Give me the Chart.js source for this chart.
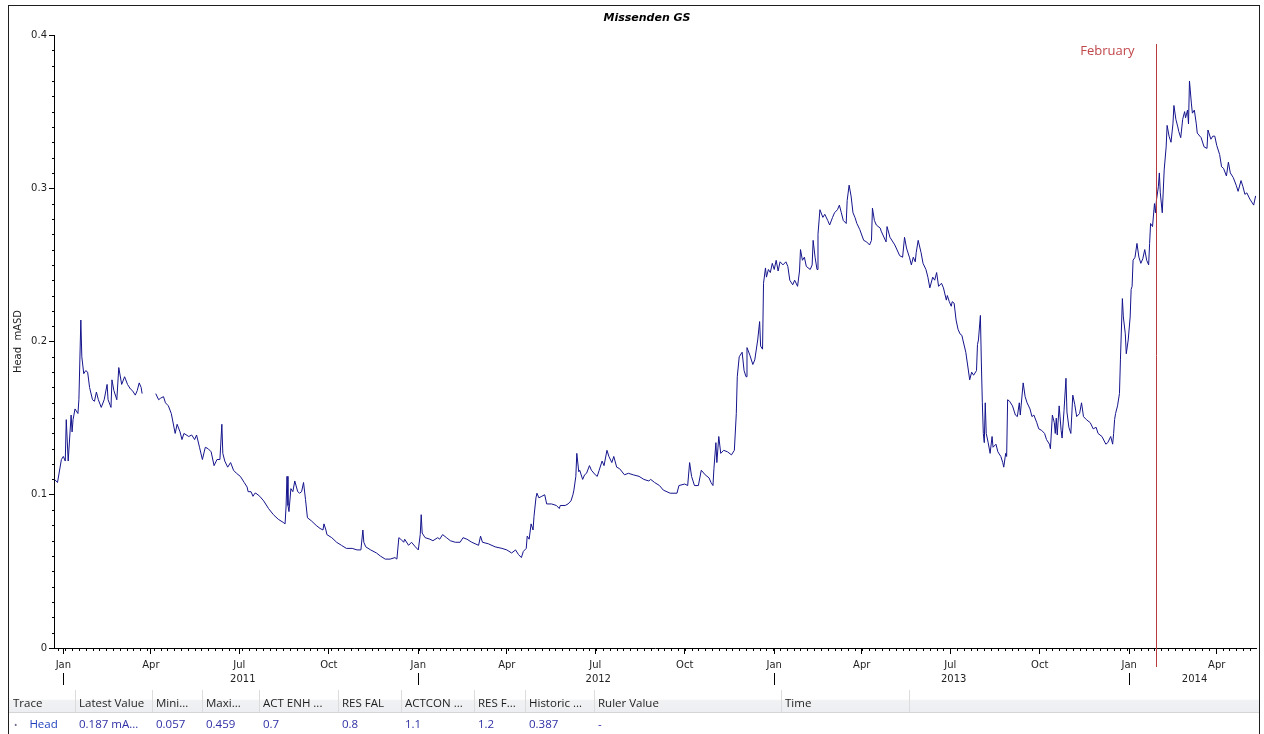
<!DOCTYPE html>
<html>
<head>
<meta charset="utf-8">
<title>Missenden GS</title>
<script src="https://cdn.jsdelivr.net/npm/chart.js@4.4.1/dist/chart.umd.min.js"></script>
<style>
  html, body { margin: 0; padding: 0; background: #ffffff; }
  body { width: 1264px; height: 734px; position: relative; overflow: hidden; }
  #plot { position: absolute; left: 0; top: 0; width: 1264px; height: 734px; }
  #frame { position: absolute; left: 8px; top: 5px; width: 1250px; height: 760px;
           border: 1px solid #1e1e1e; pointer-events: none; }
  #grid { position: absolute; left: 9px; top: 690px; width: 1250px; height: 44px;
          font-family: "Open Sans", "Noto Sans", sans-serif; font-size: 11.5px; }
  #grid .hdr { position: absolute; left: 0; top: 0; width: 1250px; height: 22px;
               background: linear-gradient(#ffffff 0%, #ffffff 42%, #f1f2f4 46%, #eceef1 100%);
               border-bottom: 1px solid #d5d5d5; }
  #grid .cell { position: absolute; white-space: nowrap; line-height: 22px; }
  #grid .hdr .cell { top: 2px; color: #1e1e1e; }
  #grid .sep { position: absolute; top: 0; width: 1px; height: 22px; background: #dcdcdc; }
  #grid .row .cell { color: #2f2fa6; }
</style>
</head>
<body>
<div id="plot"><canvas id="chart" width="1264" height="734"></canvas></div>
<div id="grid"></div>
<div id="frame"></div>
<script>
// ---- series: head level, days counted from 1 Jan 2011 (null = gap in record) ----
const dayIndex = [
  -9, -6, -2, 0, 2, 3, 5, 8, 9, 10, 12, 15, 16, 18, 19, 21, 23, 25, 27, 30,
  32, 34, 36, 39, 42, 45, 46, 49, 50, 52, 55, 57, 60, 63, 66, 69, 71, 74, 76, 78,
  80, 81, 88, 95, 98, 100, 103, 105, 108, 111, 115, 117, 120, 122, 124, 129, 132, 135, 137, 140,
  143, 146, 149, 152, 155, 158, 161, 163, 164, 166, 169, 172, 175, 178, 182, 186, 189, 190, 193, 195,
  197, 198, 202, 206, 211, 216, 221, 226, 228, 229, 230, 231, 232, 234, 236, 238, 241, 243, 245, 247,
  249, 251, 255, 260, 264, 267, 268, 270, 271, 276, 281, 286, 291, 297, 302, 306, 308, 309, 311, 316,
  322, 326, 331, 336, 341, 343, 345, 347, 350, 351, 355, 358, 362, 365, 367, 368, 369, 372, 377, 380,
  385, 387, 390, 394, 398, 403, 408, 411, 415, 420, 427, 429, 431, 437, 444, 451, 456, 461, 465, 468,
  471, 473, 476, 477, 479, 481, 483, 484, 486, 487, 489, 492, 495, 497, 502, 507, 510, 511, 516, 519,
  522, 524, 525, 527, 528, 530, 531, 534, 536, 538, 541, 543, 547, 549, 551, 554, 556, 559, 561, 564,
  566, 569, 572, 577, 581, 586, 592, 597, 602, 604, 608, 613, 617, 624, 631, 633, 639, 642, 644, 646,
  649, 653, 656, 660, 664, 666, 668, 669, 671, 672, 674, 676, 679, 683, 687, 690, 692, 693, 695, 698,
  700, 702, 703, 706, 709, 711, 714, 716, 717, 719, 720, 722, 723, 725, 727, 729, 731, 733, 735, 737,
  740, 743, 745, 747, 750, 752, 755, 757, 758, 760, 762, 764, 768, 770, 771, 773, 775, 776, 778, 781,
  783, 786, 788, 791, 793, 796, 798, 800, 802, 805, 806, 808, 810, 812, 814, 816, 819, 823, 826, 829,
  831, 832, 834, 836, 840, 841, 846, 847, 850, 855, 860, 863, 865, 867, 870, 872, 874, 876, 877, 879,
  882, 884, 887, 889, 891, 894, 896, 898, 900, 903, 905, 908, 909, 911, 913, 914, 916, 918, 920, 922,
  924, 925, 928, 930, 932, 934, 936, 939, 940, 941, 943, 944, 945, 946, 947, 948, 949, 951, 953, 955,
  956, 959, 961, 964, 966, 967, 969, 970, 971, 973, 976, 979, 981, 983, 984, 987, 989, 991, 994, 996,
  998, 1001, 1003, 1006, 1009, 1011, 1014, 1015, 1017, 1019, 1020, 1021, 1022, 1024, 1026, 1027, 1029, 1031, 1032, 1034,
  1036, 1038, 1040, 1042, 1045, 1047, 1049, 1052, 1056, 1059, 1062, 1064, 1068, 1072, 1074, 1077, 1079, 1080, 1081, 1082,
  1084, 1086, 1087, 1089, 1090, 1092, 1093, 1095, 1097, 1098, 1099, 1100, 1102, 1104, 1106, 1108, 1110, 1112, 1114, 1116,
  1117, 1118, 1120, 1122, 1123, 1124, 1126, 1127, 1128, 1130, 1132, 1134, 1135, 1137, 1139, 1141, 1142, 1144, 1146, 1147,
  1149, 1151, 1153, 1154, 1156, 1157, 1158, 1160, 1161, 1163, 1165, 1166, 1170, 1173, 1176, 1177, 1180, 1182, 1184, 1186,
  1189, 1191, 1193, 1196, 1198, 1200, 1203, 1206, 1208, 1211, 1213, 1215, 1217, 1220, 1222, 1224, 1226
];
const headValues = [
  0.110, 0.108, 0.123, 0.125, 0.122, 0.149, 0.122, 0.152, 0.141, 0.149, 0.156, 0.153, 0.162, 0.214, 0.190, 0.179, 0.181, 0.180, 0.170, 0.162,
  0.161, 0.167, 0.162, 0.157, 0.162, 0.172, 0.162, 0.157, 0.175, 0.168, 0.162, 0.183, 0.172, 0.177, 0.172, 0.169, 0.168, 0.165, 0.168, 0.173,
  0.170, 0.166, null, 0.166, 0.162, 0.163, 0.164, 0.160, 0.158, 0.153, 0.140, 0.146, 0.141, 0.136, 0.140, 0.138, 0.139, 0.136, 0.139, 0.131,
  0.123, 0.131, 0.130, 0.128, 0.119, 0.123, 0.123, 0.146, 0.127, 0.122, 0.118, 0.121, 0.116, 0.114, 0.112, 0.108, 0.105, 0.102, 0.102, 0.099,
  0.101, 0.101, 0.099, 0.096, 0.091, 0.087, 0.084, 0.082, 0.081, 0.092, 0.112, 0.093, 0.089, 0.104, 0.102, 0.109, 0.102, 0.101, 0.102, 0.108,
  0.097, 0.085, 0.083, 0.080, 0.078, 0.077, 0.081, 0.077, 0.074, 0.072, 0.069, 0.067, 0.065, 0.065, 0.064, 0.064, 0.077, 0.069, 0.066, 0.064,
  0.062, 0.060, 0.058, 0.058, 0.059, 0.058, 0.072, 0.071, 0.069, 0.071, 0.067, 0.069, 0.066, 0.064, 0.074, 0.087, 0.075, 0.072, 0.071, 0.070,
  0.072, 0.071, 0.074, 0.072, 0.070, 0.069, 0.069, 0.072, 0.071, 0.069, 0.067, 0.073, 0.069, 0.068, 0.066, 0.065, 0.064, 0.062, 0.064, 0.061,
  0.059, 0.063, 0.065, 0.073, 0.071, 0.081, 0.077, 0.086, 0.098, 0.101, 0.098, 0.099, 0.100, 0.094, 0.094, 0.093, 0.091, 0.093, 0.093, 0.094,
  0.096, 0.100, 0.103, 0.112, 0.127, 0.115, 0.116, 0.110, 0.113, 0.114, 0.119, 0.116, 0.113, 0.112, 0.116, 0.122, 0.119, 0.129, 0.125, 0.121,
  0.125, 0.118, 0.117, 0.113, 0.114, 0.113, 0.112, 0.110, 0.109, 0.110, 0.108, 0.106, 0.103, 0.101, 0.101, 0.106, 0.107, 0.106, 0.121, 0.112,
  0.106, 0.106, 0.116, 0.113, 0.111, 0.108, 0.106, 0.117, 0.134, 0.121, 0.138, 0.127, 0.129, 0.128, 0.126, 0.129, 0.153, 0.177, 0.190, 0.193,
  0.181, 0.177, 0.196, 0.191, 0.185, 0.188, 0.201, 0.213, 0.197, 0.195, 0.238, 0.248, 0.242, 0.247, 0.245, 0.251, 0.247, 0.253, 0.246, 0.252,
  0.250, 0.252, 0.249, 0.240, 0.237, 0.240, 0.236, 0.246, 0.260, 0.253, 0.255, 0.249, 0.247, 0.250, 0.266, 0.255, 0.247, 0.270, 0.286, 0.281,
  0.283, 0.279, 0.276, 0.281, 0.284, 0.286, 0.289, 0.284, 0.279, 0.277, 0.292, 0.302, 0.295, 0.284, 0.281, 0.277, 0.273, 0.266, 0.265, 0.263,
  0.266, 0.287, 0.279, 0.276, 0.274, 0.272, 0.265, 0.275, 0.268, 0.263, 0.256, 0.255, 0.268, 0.261, 0.255, 0.250, 0.255, 0.252, 0.258, 0.266,
  0.258, 0.251, 0.247, 0.242, 0.235, 0.242, 0.240, 0.245, 0.236, 0.238, 0.235, 0.227, 0.230, 0.226, 0.223, 0.226, 0.225, 0.214, 0.208, 0.205,
  0.204, 0.201, 0.193, 0.184, 0.175, 0.180, 0.178, 0.181, 0.198, 0.201, 0.217, 0.186, 0.160, 0.140, 0.134, 0.160, 0.140, 0.134, 0.127, 0.138,
  0.131, 0.133, 0.128, 0.125, 0.121, 0.118, 0.127, 0.125, 0.162, 0.161, 0.158, 0.152, 0.151, 0.160, 0.152, 0.173, 0.164, 0.160, 0.156, 0.151,
  0.152, 0.147, 0.143, 0.142, 0.140, 0.136, 0.133, 0.130, 0.152, 0.147, 0.140, 0.150, 0.139, 0.158, 0.142, 0.137, 0.155, 0.176, 0.154, 0.144,
  0.140, 0.165, 0.159, 0.151, 0.153, 0.160, 0.151, 0.149, 0.147, 0.143, 0.144, 0.140, 0.138, 0.133, 0.134, 0.138, 0.133, 0.140, 0.149, 0.153,
  0.158, 0.166, 0.188, 0.228, 0.216, 0.205, 0.192, 0.201, 0.216, 0.234, 0.236, 0.253, 0.255, 0.264, 0.255, 0.251, 0.254, 0.260, 0.253, 0.250,
  0.264, 0.277, 0.275, 0.290, 0.284, 0.292, 0.301, 0.310, 0.297, 0.284, 0.312, 0.327, 0.341, 0.334, 0.330, 0.342, 0.354, 0.345, 0.340, 0.337,
  0.333, 0.345, 0.350, 0.346, 0.351, 0.342, 0.370, 0.355, 0.349, 0.351, 0.342, 0.336, 0.333, 0.327, 0.326, 0.338, 0.332, 0.334, 0.334, 0.328,
  0.322, 0.314, 0.313, 0.308, 0.317, 0.310, 0.307, 0.302, 0.298, 0.305, 0.301, 0.296, 0.297, 0.293, 0.291, 0.289, 0.295
];

// ---- axes ----
const xRange = [-9.6, 1226.4];               // days from 1 Jan 2011
const yRange = [0, 0.4];
const yTickStep = 0.1;
const yMinorStep = 0.01;
const years = [2011, 2012, 2013, 2014];
const quarterMonths = [0, 3, 6, 9];
const monthNames = ['Jan', 'Feb', 'Mar', 'Apr', 'May', 'Jun', 'Jul', 'Aug', 'Sep', 'Oct', 'Nov', 'Dec'];

// ---- annotations and text ----
const chartTitle = 'Missenden GS';
const yAxisTitle = 'Head  mASD';
const markerDay = 1123.5;
const markerLabel = 'February';

// ---- summary table under the plot ----
const tableHeaders = ['Trace', 'Latest Value', 'Mini...', 'Maxi...', 'ACT ENH ...', 'RES FAL', 'ACTCON ...', 'RES F...', 'Historic ...', 'Ruler Value', 'Time'];
const tableRow = ['Head', '0.187  mA...', '0.057', '0.459', '0.7', '0.8', '1.1', '1.2', '0.387', '-', ''];
const tableColumnEdges = [0, 66, 143, 193, 250, 329, 392, 465, 516, 585, 772, 900];

const DAY0 = Date.UTC(2011, 0, 1);
const dayOf = (y, m, d) => (Date.UTC(y, m, d) - DAY0) / 864e5;

const points = dayIndex.map((d, i) => ({ x: d, y: headValues[i] }));

const quarterTicks = [];
years.forEach(y => quarterMonths.forEach(m => {
  const d = dayOf(y, m, 1);
  if (d >= xRange[0] && d <= xRange[1]) quarterTicks.push({ value: d, month: m });
}));

const TEXT = '#1e1e1e';
const FONT = 'DejaVu Sans';

const decor = {
  id: 'decor',
  afterDatasetsDraw(chart) {
    const { ctx, chartArea: a, scales: { x, y } } = chart;
    ctx.save();

    // title
    ctx.fillStyle = '#000';
    ctx.font = 'italic bold 11px ' + FONT;
    ctx.textAlign = 'center';
    ctx.textBaseline = 'middle';
    ctx.fillText(chartTitle, 647, 18);

    // minor ticks on the value axis
    ctx.strokeStyle = '#000';
    ctx.lineWidth = 1;
    ctx.beginPath();
    for (let v = yRange[0] + yMinorStep; v < yRange[1] - 1e-9; v += yMinorStep) {
      if (Math.abs(v / yTickStep - Math.round(v / yTickStep)) < 1e-6) continue;
      const py = Math.round(y.getPixelForValue(v)) + 0.5;
      ctx.moveTo(a.left - 2, py);
      ctx.lineTo(a.left, py);
    }
    // weekly minor ticks on the time axis
    for (let d = dayOf(2010, 11, 27); d <= xRange[1]; d += 7) {
      if (d < xRange[0]) continue;
      const px = Math.round(x.getPixelForValue(d)) + 0.5;
      ctx.moveTo(px, a.bottom);
      ctx.lineTo(px, a.bottom + 3);
    }
    ctx.stroke();

    // year separators and year captions
    ctx.font = '10px ' + FONT;
    ctx.fillStyle = TEXT;
    years.forEach(yr => {
      const s = dayOf(yr, 0, 1), e = dayOf(yr + 1, 0, 1);
      if (s >= xRange[0] && s <= xRange[1]) {
        const px = Math.round(x.getPixelForValue(s)) + 0.5;
        ctx.beginPath();
        ctx.moveTo(px, a.bottom + 25);
        ctx.lineTo(px, a.bottom + 37);
        ctx.stroke();
      }
      const vs = Math.max(s, xRange[0]), ve = Math.min(e, xRange[1]);
      if (ve > vs) ctx.fillText(String(yr), x.getPixelForValue((vs + ve) / 2) + 2, a.bottom + 31);
    });

    // marker line
    const mx = Math.round(x.getPixelForValue(markerDay)) + 0.5;
    ctx.strokeStyle = '#b73a40';
    ctx.beginPath();
    ctx.moveTo(mx, a.top + 9);
    ctx.lineTo(mx, a.bottom + 19);
    ctx.stroke();
    ctx.fillStyle = '#c0474a';
    ctx.font = '13px "Open Sans"';
    ctx.textAlign = 'right';
    ctx.fillText(markerLabel, mx - 22, a.top + 16);

    ctx.restore();
  }
};

new Chart(document.getElementById('chart'), {
  type: 'line',
  data: {
    datasets: [{
      data: points,
      borderColor: '#14148c',
      borderWidth: 1,
      pointRadius: 0,
      tension: 0,
      spanGaps: false,
      fill: false
    }]
  },
  options: {
    responsive: false,
    animation: false,
    events: [],
    layout: { padding: { top: 35, right: 8, bottom: 0, left: 0 } },
    plugins: { legend: { display: false }, tooltip: { enabled: false }, title: { display: false } },
    scales: {
      x: {
        type: 'linear',
        min: xRange[0],
        max: xRange[1],
        afterBuildTicks: s => { s.ticks = quarterTicks.map(t => ({ value: t.value })); },
        afterFit: s => { s.height = 86; },
        ticks: {
          autoSkip: false,
          maxRotation: 0,
          padding: 5,
          color: TEXT,
          font: { family: FONT, size: 10 },
          callback: v => {
            const t = quarterTicks.find(q => q.value === v);
            return t ? monthNames[t.month] : '';
          }
        },
        grid: { drawOnChartArea: false, drawTicks: true, tickLength: 6, color: '#000' },
        border: { display: true, color: '#000' }
      },
      y: {
        min: yRange[0],
        max: yRange[1],
        afterFit: s => { s.width = 54; },
        ticks: {
          stepSize: yTickStep,
          padding: 2,
          color: TEXT,
          font: { family: FONT, size: 10 },
          callback: v => (Math.abs(v) < 1e-9 ? '0' : v.toFixed(1))
        },
        grid: { drawOnChartArea: false, drawTicks: true, tickLength: 5, color: '#000' },
        border: { display: true, color: '#000' },
        title: {
          display: true,
          text: yAxisTitle,
          color: TEXT,
          font: { family: FONT, size: 10 },
          padding: { top: 12, bottom: 0 }
        }
      }
    }
  },
  plugins: [decor]
});

// summary table
(function buildTable() {
  const grid = document.getElementById('grid');
  const hdr = document.createElement('div');
  hdr.className = 'hdr';
  const row = document.createElement('div');
  row.className = 'row';
  row.style.cssText = 'position:absolute;left:0;top:23px;width:1250px;height:21px;';
  tableHeaders.forEach((h, i) => {
    const c = document.createElement('div');
    c.className = 'cell';
    c.style.left = (tableColumnEdges[i] + 4) + 'px';
    c.textContent = h;
    hdr.appendChild(c);
    if (i > 0) {
      const s = document.createElement('div');
      s.className = 'sep';
      s.style.left = tableColumnEdges[i] + 'px';
      hdr.appendChild(s);
    }
  });
  const last = document.createElement('div');
  last.className = 'sep';
  last.style.left = tableColumnEdges[tableColumnEdges.length - 1] + 'px';
  hdr.appendChild(last);

  tableRow.forEach((v, i) => {
    const c = document.createElement('div');
    c.className = 'cell';
    c.style.lineHeight = '21px';
    if (i === 0) {
      c.style.left = '5px';
      c.style.color = '#1f3fbf';
      c.innerHTML = '<span style="color:#6a6a8a;font-size:9px;margin-right:12px;">&#8226;</span>' + v;
    } else {
      c.style.left = (tableColumnEdges[i] + 4) + 'px';
      c.textContent = v;
    }
    row.appendChild(c);
  });
  grid.appendChild(hdr);
  grid.appendChild(row);
})();
</script>
</body>
</html>
